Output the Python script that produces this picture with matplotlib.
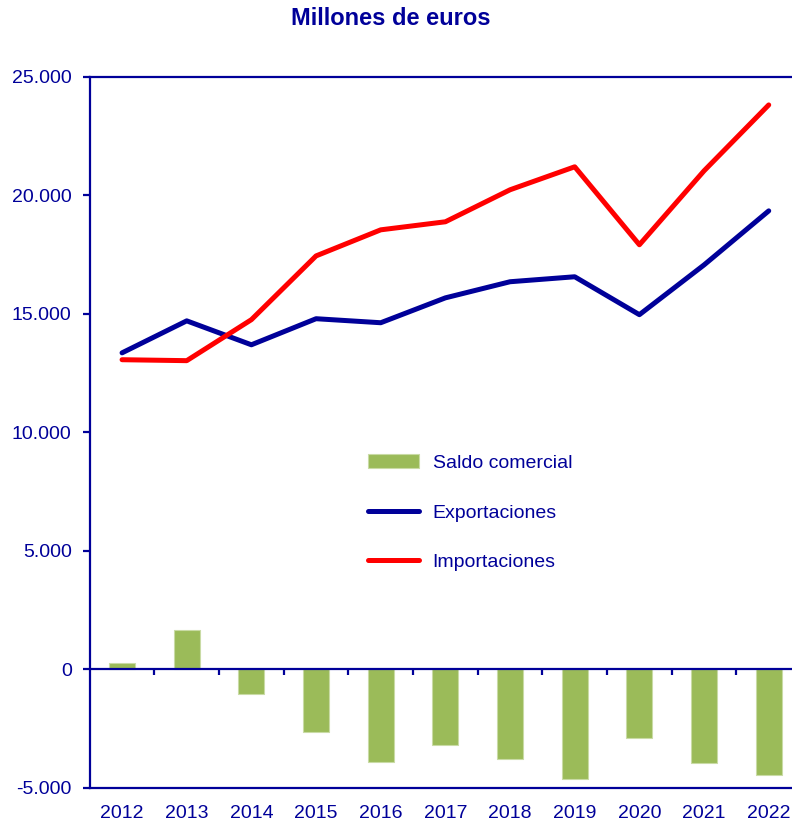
import numpy as np
import matplotlib.pyplot as plt
from matplotlib.ticker import FuncFormatter

plt.rcParams['font.family'] = ['Liberation Sans', 'DejaVu Sans']

years = ["2012", "2013", "2014", "2015", "2016", "2017", "2018", "2019", "2020", "2021", "2022"]
exportaciones = [13360, 14710, 13700, 14800, 14630, 15680, 16360, 16570, 14970, 17070, 19350]
importaciones = [13070, 13030, 14760, 17450, 18550, 18890, 20240, 21210, 17920, 21040, 23820]
saldo = [290, 1660, -1040, -2650, -3920, -3200, -3790, -4600, -2910, -3960, -4470]

navy = "#000099"
red = "#FF0000"
green = "#9BBB59"

fig = plt.figure(figsize=(7.92, 8.24), dpi=100)
ax = fig.add_axes([0.1133, 0.0437, 0.8867, 0.8629])

x = np.arange(len(years))
b = ax.bar(x, saldo, width=0.40, color=green, edgecolor="#C9DBA5", linewidth=0.8,
           label="Saldo comercial", zorder=2)
l1, = ax.plot(x, exportaciones, color=navy, lw=3.6, solid_capstyle="round",
              label="Exportaciones", zorder=3)
l2, = ax.plot(x, importaciones, color=red, lw=3.6, solid_capstyle="round",
              label="Importaciones", zorder=3)

# zero line with small ticks between categories
ax.axhline(0, color=navy, lw=1.6, zorder=2)
bounds = np.arange(len(years)) + 0.5
ax.vlines(bounds, -220, 0, color=navy, lw=1.6, zorder=2)

ax.set_xlim(-0.5, 10.36)
ax.set_ylim(-5000, 25000)
ax.set_yticks(np.arange(-5000, 25001, 5000))
ax.yaxis.set_major_formatter(FuncFormatter(lambda v, p: f"{int(v):,}".replace(",", ".")))
ax.set_xticks(x)
ax.set_xticklabels(years)

for side in ["left", "top", "bottom"]:
    ax.spines[side].set_color(navy)
    ax.spines[side].set_linewidth(1.6)
ax.spines["right"].set_visible(False)
ax.tick_params(axis="x", length=0, pad=12, labelsize=14, labelcolor=navy)
ax.tick_params(axis="y", length=5, width=1.6, color=navy, pad=8, labelsize=14, labelcolor=navy)

fig.text(0.494, 0.978, "Millones de euros", ha="center", va="center",
         fontsize=17, fontweight="bold", color=navy)

leg = ax.legend([b, l1, l2], ["Saldo comercial", "Exportaciones", "Importaciones"],
                loc="upper left", bbox_to_anchor=(0.443, 0.470), bbox_transform=fig.transFigure,
                frameon=False, fontsize=14, handlelength=2.6, handletextpad=0.7,
                labelspacing=1.65)
for t in leg.get_texts():
    t.set_color(navy)

fig.savefig("out.png", dpi=100)
